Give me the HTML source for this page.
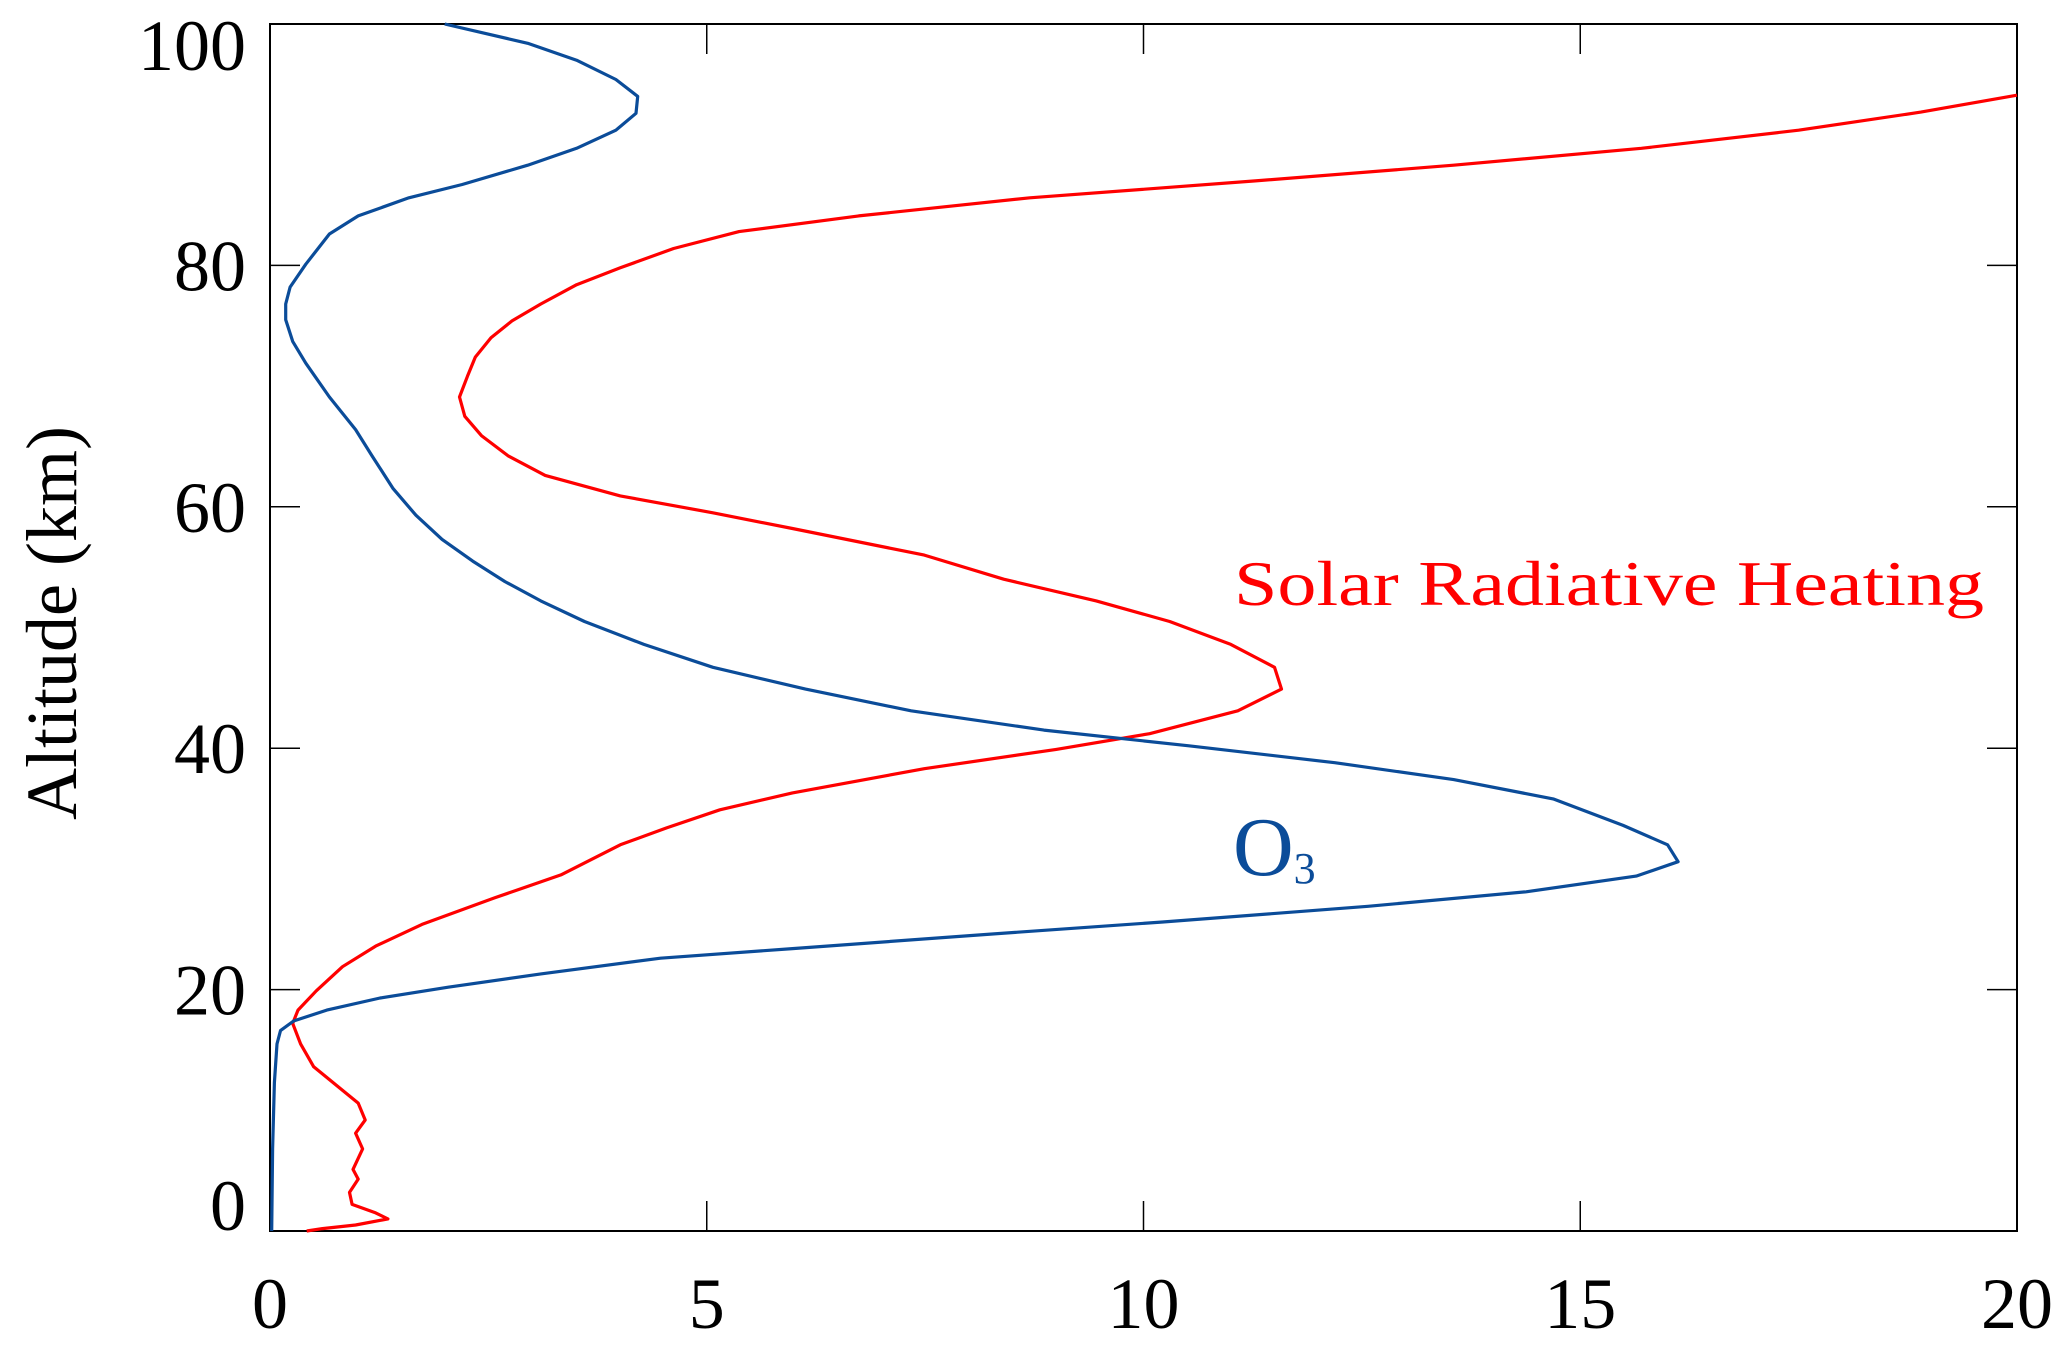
<!DOCTYPE html>
<html><head><meta charset="utf-8"><style>
html,body{margin:0;padding:0;background:#fff;}
svg{display:block;font-family:"Liberation Serif",serif;}
</style></head>
<body>
<svg id="chart" width="2067" height="1346" viewBox="0 0 2067 1346" xmlns="http://www.w3.org/2000/svg">
<g id="axes"></g>
<g id="series"></g>
<text transform="translate(76,623) rotate(-90)" text-anchor="middle" font-size="72" fill="#000">Altitude (km)</text>
<text x="1234" y="605" font-size="64" fill="#ff0000" textLength="750" lengthAdjust="spacingAndGlyphs">Solar Radiative Heating</text>
<text x="1233" y="875" font-size="84" fill="#0b4c99">O<tspan font-size="44" dy="8">3</tspan></text>
</svg>
<script>
const xTicks = [0, 5, 10, 15, 20];
const yTicks = [0, 20, 40, 60, 80, 100];
const o3X = [2.0,2.95,3.51,3.96,4.21,4.19,3.96,3.51,2.95,2.2,1.59,1.01,0.68,0.41,0.23,0.18,0.18,0.26,0.41,0.68,0.98,1.17,1.41,1.67,1.97,2.32,2.69,3.10,3.60,4.28,5.07,6.13,7.34,8.86,10.52,12.19,13.55,14.69,15.49,16.0,16.12,15.64,14.38,12.57,10.22,8.25,5.98,4.47,3.10,2.04,1.26,0.65,0.27,0.12,0.08,0.05,0.03,0.02];
const o3Y = [100,98.4,97.0,95.4,94.0,92.6,91.2,89.7,88.3,86.7,85.6,84.1,82.6,80.1,78.2,76.8,75.5,73.7,71.9,69.1,66.4,64.2,61.5,59.3,57.3,55.5,53.8,52.2,50.5,48.6,46.7,44.9,43.1,41.5,40.2,38.8,37.4,35.8,33.6,32.0,30.6,29.4,28.1,26.9,25.6,24.6,23.4,22.6,21.3,20.2,19.3,18.3,17.4,16.6,15.5,12.3,6.8,0];
const heatX = [20,18.9,17.5,15.7,13.55,11.28,8.7,6.74,5.37,4.62,4.01,3.51,3.1,2.77,2.53,2.35,2.26,2.17,2.23,2.42,2.73,3.15,4.01,5.07,5.98,7.49,8.40,9.46,10.3,11.0,11.5,11.58,11.08,10.07,9.0,7.49,5.98,5.15,4.54,4.01,3.33,2.57,1.74,1.21,0.83,0.53,0.32,0.26,0.35,0.5,1.01,1.09,0.98,1.06,0.95,1.01,0.91,0.94,1.21,1.35,0.98,0.6,0.42];
const heatY = [94.1,92.7,91.2,89.7,88.3,87.0,85.6,84.1,82.8,81.4,79.8,78.4,76.8,75.4,74.0,72.4,70.8,69.1,67.5,65.9,64.2,62.6,60.9,59.5,58.2,56.0,54.0,52.2,50.5,48.6,46.7,44.9,43.1,41.2,39.9,38.3,36.3,34.9,33.4,32.0,29.5,27.6,25.4,23.6,21.9,19.9,18.3,17.2,15.5,13.6,10.6,9.2,8.1,6.8,5.1,4.3,3.2,2.2,1.5,1.0,0.5,0.2,0];

const L=270,R=2017,T=24,B=1231;
const sx=v=>L+(v-0)/(20-0)*(R-L);
const sy=v=>B-(v-0)/(100-0)*(B-T);
const NS="http://www.w3.org/2000/svg";
function mk(tag,attrs,parent){const e=document.createElementNS(NS,tag);for(const k in attrs)e.setAttribute(k,attrs[k]);parent.appendChild(e);return e;}
const axes=document.getElementById('axes');
const series=document.getElementById('series');

const frame=mk('rect',{x:L,y:T,width:R-L,height:B-T,fill:'none',stroke:'#000','stroke-width':2},axes);


const tl=30;
xTicks.forEach(v=>{
  const x=sx(v);
  const t1=mk('line',{x1:x,x2:x,y1:B,y2:B-tl,stroke:'#000','stroke-width':1.5},axes);
  
  
  const t2=mk('line',{x1:x,x2:x,y1:T,y2:T+tl,stroke:'#000','stroke-width':1.5},axes);
  
  
  const lb=mk('text',{x:x,y:1328,'text-anchor':'middle','font-size':72,fill:'#000'},axes);
  lb.textContent=v;
  
  
});
yTicks.forEach(v=>{
  const y=sy(v);
  const t1=mk('line',{x1:L,x2:L+tl,y1:y,y2:y,stroke:'#000','stroke-width':1.5},axes);
  
  
  const t2=mk('line',{x1:R,x2:R-tl,y1:y,y2:y,stroke:'#000','stroke-width':1.5},axes);
  
  
  const lb=mk('text',{x:246,y:v===0?1230:(v===100?y+46:y+25),'text-anchor':'end','font-size':72,fill:'#000'},axes);
  lb.textContent=v;
  
  
});
function line(xs,ys,color,name){
  const d=xs.map((v,i)=>(i?'L':'M')+sx(v).toFixed(1)+','+sy(ys[i]).toFixed(1)).join(' ');
  const p=mk('path',{d:d,fill:'none',stroke:color,'stroke-width':3.2,'stroke-linejoin':'round'},series);
  
  
}
line(heatX,heatY,'#ff0000','solar-heating-line');
line(o3X,o3Y,'#0b4c99','o3-line');
</script>
</body></html>
